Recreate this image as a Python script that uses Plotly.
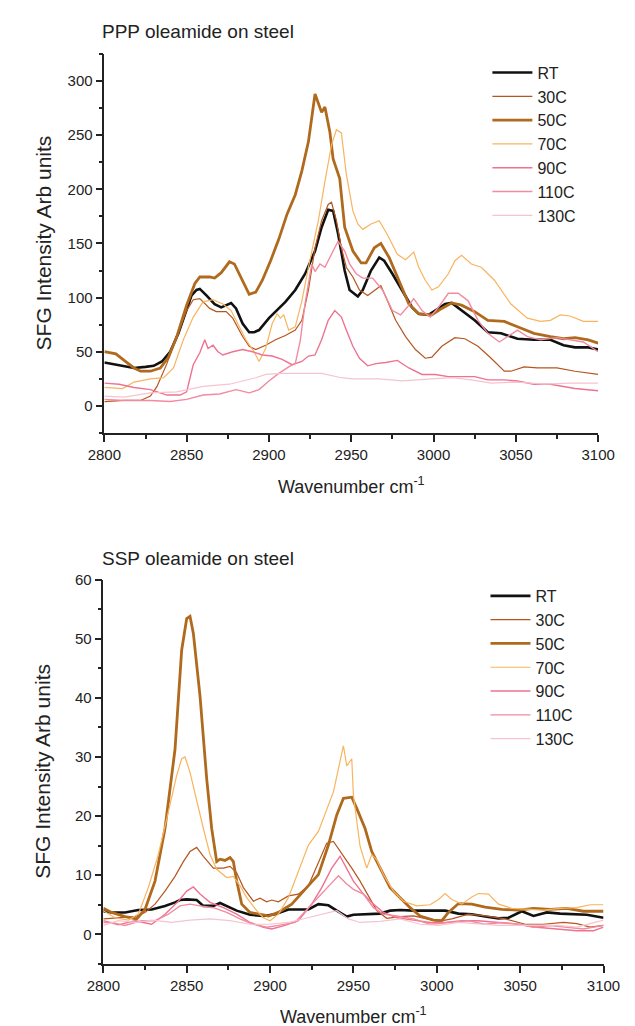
import plotly.graph_objects as go

# ---------------- data ----------------
series_names = ["RT", "30C", "50C", "70C", "90C", "110C", "130C"]
series_colors = ["#111111", "#b5561f", "#b06a1e", "#f8b45e", "#ee7390", "#f28aa0", "#f6c4d0"]
series_widths = [2.6, 1.2, 2.8, 1.2, 1.4, 1.4, 1.2]

# PPP oleamide on steel: (wavenumber, intensity)
ppp_rt = [(2800, 40), (2818, 35), (2825, 36), (2830, 37), (2835, 41), (2840, 50), (2845, 67), (2850, 88),
          (2853, 102), (2856, 107), (2858, 108), (2862, 102), (2867, 94), (2871, 91), (2877, 95), (2880, 90),
          (2884, 76), (2888, 68), (2891, 68), (2894, 70), (2900, 81), (2906, 90), (2910, 96), (2916, 107),
          (2922, 122), (2928, 143), (2932, 165), (2936, 181), (2939, 180), (2942, 159), (2946, 125), (2949, 107),
          (2954, 101), (2957, 107), (2962, 125), (2967, 137), (2970, 134), (2975, 122), (2981, 107), (2987, 91),
          (2991, 85), (2997, 84), (3001, 88), (3007, 94), (3011, 95), (3017, 88), (3025, 79), (3033, 68),
          (3041, 67), (3051, 62), (3061, 61), (3071, 61), (3079, 56), (3086, 54), (3094, 54), (3100, 52)]
ppp_30c = [(2800, 4), (2812, 5), (2822, 5), (2828, 9), (2832, 18), (2838, 39), (2844, 64), (2850, 88),
           (2854, 98), (2858, 99), (2864, 90), (2868, 87), (2874, 87), (2878, 81), (2884, 64), (2888, 55),
           (2892, 52), (2898, 56), (2904, 61), (2910, 65), (2916, 70), (2920, 79), (2924, 107), (2928, 146),
           (2932, 171), (2936, 186), (2938, 188), (2941, 171), (2944, 146), (2947, 128), (2951, 119), (2955, 107),
           (2960, 102), (2965, 108), (2968, 111), (2972, 97), (2977, 79), (2983, 64), (2989, 52), (2995, 44),
           (2999, 45), (3005, 55), (3013, 63), (3019, 62), (3027, 55), (3035, 44), (3043, 32), (3047, 32),
           (3055, 36), (3063, 35), (3075, 35), (3086, 32), (3100, 29)]
ppp_50c = [(2800, 50), (2807, 48), (2812, 42), (2818, 35), (2822, 32), (2828, 32), (2834, 35), (2839, 45),
           (2844, 64), (2850, 93), (2855, 113), (2858, 119), (2864, 119), (2867, 118), (2871, 123), (2876, 133),
           (2879, 131), (2883, 119), (2888, 103), (2892, 105), (2896, 116), (2901, 134), (2906, 154), (2911, 177),
           (2916, 195), (2920, 217), (2924, 244), (2928, 288), (2932, 271), (2934, 276), (2937, 253), (2939, 228),
           (2943, 210), (2946, 165), (2951, 143), (2956, 132), (2959, 132), (2964, 146), (2968, 150), (2973, 137),
           (2979, 116), (2985, 94), (2991, 85), (2999, 84), (3005, 90), (3011, 95), (3017, 93), (3025, 87),
           (3033, 79), (3043, 78), (3051, 73), (3061, 67), (3071, 64), (3079, 62), (3086, 63), (3094, 61), (3100, 58)]
ppp_70c = [(2800, 17), (2811, 16), (2818, 22), (2828, 25), (2836, 26), (2842, 35), (2848, 61), (2854, 82),
           (2860, 96), (2866, 98), (2872, 94), (2877, 88), (2881, 76), (2886, 61), (2891, 50), (2894, 41),
           (2898, 53), (2902, 76), (2905, 85), (2907, 81), (2909, 84), (2912, 70), (2916, 73), (2920, 97),
           (2924, 128), (2930, 171), (2934, 207), (2938, 241), (2941, 255), (2944, 252), (2947, 214), (2951, 180),
           (2954, 168), (2957, 163), (2962, 168), (2967, 171), (2972, 158), (2978, 140), (2983, 135), (2988, 142),
           (2991, 128), (2995, 116), (2999, 107), (3003, 110), (3009, 122), (3013, 134), (3017, 139), (3023, 131),
           (3029, 128), (3037, 116), (3047, 94), (3057, 81), (3065, 78), (3071, 79), (3077, 84), (3083, 83),
           (3091, 78), (3100, 78)]
ppp_90c = [(2800, 21), (2809, 20), (2818, 17), (2828, 15), (2838, 10), (2846, 10), (2850, 13), (2854, 38),
           (2858, 49), (2861, 61), (2863, 53), (2866, 56), (2869, 50), (2872, 47), (2878, 50), (2884, 52),
           (2890, 50), (2896, 47), (2902, 46), (2908, 43), (2914, 38), (2920, 41), (2924, 46), (2928, 47),
           (2932, 61), (2936, 79), (2940, 88), (2944, 82), (2947, 70), (2951, 55), (2955, 44), (2960, 37),
           (2965, 39), (2971, 40), (2978, 42), (2985, 35), (2993, 29), (3001, 29), (3009, 27), (3017, 27),
           (3025, 27), (3033, 24), (3043, 24), (3051, 23), (3061, 20), (3071, 20), (3079, 18), (3086, 16), (3100, 14)]
ppp_110c = [(2800, 6), (2812, 5), (2828, 5), (2840, 4), (2850, 6), (2860, 10), (2870, 11), (2880, 15),
            (2888, 12), (2894, 15), (2900, 23), (2906, 30), (2912, 36), (2916, 39), (2919, 60), (2922, 95),
            (2926, 131), (2928, 124), (2931, 131), (2934, 128), (2938, 140), (2942, 152), (2946, 143), (2949, 131),
            (2953, 122), (2957, 118), (2963, 118), (2969, 107), (2975, 88), (2980, 84), (2984, 91), (2988, 99),
            (2993, 88), (2998, 82), (3003, 91), (3009, 104), (3015, 104), (3021, 97), (3027, 79), (3033, 67),
            (3040, 59), (3045, 64), (3051, 70), (3057, 64), (3065, 61), (3075, 63), (3083, 61), (3091, 59), (3100, 50)]
ppp_130c = [(2800, 9), (2812, 8), (2828, 12), (2844, 13), (2860, 18), (2876, 20), (2892, 26), (2898, 29),
            (2908, 30), (2920, 30), (2932, 30), (2944, 26), (2951, 25), (2967, 25), (2981, 23), (2999, 25),
            (3011, 26), (3023, 24), (3035, 21), (3051, 22), (3067, 20), (3083, 21), (3100, 21)]

# SSP oleamide on steel: (wavenumber, intensity)
ssp_rt = [(2800, 3.9), (2805, 3.7), (2813, 3.7), (2821, 4.1), (2829, 4.2), (2837, 4.8), (2843, 5.4), (2846, 5.8),
          (2850, 5.9), (2856, 5.8), (2860, 4.8), (2866, 4.8), (2870, 5.3), (2874, 4.8), (2880, 4.0), (2888, 3.3),
          (2896, 3.1), (2903, 3.4), (2911, 4.2), (2917, 4.2), (2923, 4.2), (2929, 5.1), (2935, 4.9), (2940, 4.0),
          (2946, 3.0), (2950, 3.3), (2958, 3.4), (2966, 3.5), (2972, 4.0), (2978, 4.1), (2986, 4.0), (2996, 4.0),
          (3005, 4.0), (3013, 3.5), (3021, 3.4), (3029, 3.0), (3037, 2.7), (3043, 2.8), (3051, 3.9), (3058, 3.1),
          (3066, 3.7), (3074, 3.5), (3082, 3.4), (3090, 3.3), (3100, 2.8)]
ssp_30c = [(2800, 2.6), (2809, 2.8), (2819, 3.0), (2825, 3.7), (2831, 5.1), (2837, 7.3), (2843, 9.8), (2848, 12.3),
           (2852, 14.0), (2856, 14.7), (2860, 13.2), (2866, 11.2), (2872, 11.2), (2876, 11.5), (2880, 10.4),
           (2884, 7.9), (2890, 5.6), (2894, 6.1), (2898, 5.5), (2901, 5.8), (2905, 5.5), (2911, 6.5), (2917, 6.8),
           (2923, 8.2), (2929, 12.3), (2934, 15.4), (2938, 15.7), (2943, 13.7), (2949, 11.2), (2954, 9.0),
           (2959, 6.5), (2964, 4.0), (2970, 2.7), (2978, 3.0), (2986, 3.1), (2994, 2.6), (3001, 2.2), (3009, 2.6),
           (3019, 3.4), (3029, 3.1), (3041, 2.6), (3053, 1.7), (3064, 1.7), (3076, 2.0), (3084, 1.8), (3092, 1.2),
           (3100, 1.5)]
ssp_50c = [(2800, 4.4), (2805, 3.7), (2813, 3.0), (2820, 2.6), (2825, 4.2), (2831, 9.0), (2837, 17.9), (2843, 31.3),
           (2847, 48.1), (2850, 53.4), (2852, 53.8), (2854, 50.9), (2858, 40.3), (2862, 26.3), (2865, 17.9),
           (2868, 12.3), (2870, 12.7), (2873, 12.5), (2876, 13.0), (2878, 12.3), (2880, 9.0), (2883, 5.1),
           (2888, 3.7), (2894, 3.4), (2899, 3.1), (2905, 3.7), (2913, 5.1), (2921, 7.6), (2929, 10.1), (2935, 15.1),
           (2940, 20.2), (2944, 23.0), (2949, 23.2), (2952, 21.3), (2957, 17.9), (2961, 14.0), (2966, 11.2),
           (2972, 7.9), (2978, 6.2), (2984, 4.5), (2990, 3.1), (2998, 2.4), (3003, 2.3), (3007, 3.7), (3013, 5.2),
           (3021, 5.1), (3029, 4.6), (3039, 4.2), (3049, 4.1), (3058, 4.4), (3068, 4.2), (3078, 4.4), (3088, 3.9),
           (3100, 3.9)]
ssp_70c = [(2800, 4.0), (2807, 2.8), (2815, 2.4), (2821, 3.4), (2827, 7.9), (2833, 13.5), (2839, 20.7), (2844, 26.9),
           (2847, 29.7), (2849, 30.0), (2852, 27.4), (2856, 22.4), (2860, 17.9), (2864, 13.5), (2868, 11.0),
           (2874, 9.6), (2878, 9.8), (2882, 8.2), (2886, 6.2), (2892, 4.0), (2896, 2.8), (2900, 2.3), (2905, 3.4),
           (2911, 6.2), (2917, 10.7), (2923, 15.1), (2929, 17.4), (2934, 21.3), (2938, 24.1), (2941, 28.0),
           (2944, 31.9), (2946, 28.5), (2949, 29.7), (2950, 23.5), (2954, 14.9), (2958, 11.2), (2961, 13.5),
           (2964, 12.6), (2968, 10.1), (2974, 7.3), (2980, 5.6), (2988, 4.8), (2996, 5.0), (3001, 5.9), (3005, 6.9),
           (3009, 5.9), (3015, 5.1), (3021, 6.3), (3025, 6.9), (3031, 6.8), (3037, 5.1), (3045, 4.4), (3054, 4.2),
           (3064, 4.1), (3074, 4.4), (3084, 4.5), (3092, 5.0), (3100, 5.0)]
ssp_90c = [(2800, 2.3), (2809, 1.6), (2819, 2.3), (2829, 1.7), (2837, 3.4), (2845, 5.6), (2850, 7.3), (2854, 8.0),
           (2858, 6.8), (2864, 5.4), (2872, 4.5), (2880, 3.4), (2888, 2.0), (2896, 1.2), (2901, 0.9), (2909, 1.5),
           (2917, 2.3), (2925, 5.1), (2931, 7.9), (2937, 11.2), (2942, 13.2), (2946, 11.2), (2950, 9.0), (2956, 6.8),
           (2962, 5.1), (2968, 3.7), (2976, 2.8), (2986, 2.4), (2996, 2.0), (3005, 2.0), (3015, 2.3), (3025, 2.3),
           (3037, 2.0), (3049, 1.7), (3060, 1.2), (3072, 0.9), (3084, 0.6), (3094, 0.6), (3100, 1.2)]
ssp_110c = [(2800, 2.0), (2805, 2.0), (2813, 1.5), (2823, 2.3), (2831, 2.3), (2839, 3.4), (2846, 4.8), (2852, 5.1),
            (2858, 4.8), (2866, 4.5), (2874, 3.7), (2882, 2.6), (2890, 1.7), (2898, 1.2), (2905, 1.5), (2915, 2.0),
            (2923, 4.5), (2931, 6.8), (2937, 8.7), (2941, 9.9), (2946, 8.5), (2950, 7.6), (2956, 6.8), (2962, 4.5),
            (2968, 3.4), (2976, 3.1), (2986, 2.6), (2996, 1.7), (3007, 2.0), (3019, 2.3), (3029, 1.7), (3039, 2.0),
            (3049, 1.7), (3058, 1.2), (3068, 1.5), (3078, 1.2), (3088, 0.9), (3100, 1.5)]
ssp_130c = [(2800, 1.5), (2809, 2.3), (2819, 2.0), (2829, 2.4), (2841, 2.0), (2852, 2.4), (2864, 2.6), (2876, 2.3),
            (2888, 1.7), (2899, 1.7), (2911, 2.0), (2923, 2.8), (2931, 3.3), (2940, 4.0), (2947, 2.6), (2954, 2.0),
            (2966, 2.2), (2978, 2.6), (2990, 1.7), (3001, 1.5), (3013, 2.0), (3025, 1.7), (3037, 1.5), (3049, 1.5),
            (3060, 1.5), (3072, 1.5), (3084, 1.2), (3100, 2.4)]

ppp_series = [ppp_rt, ppp_30c, ppp_50c, ppp_70c, ppp_90c, ppp_110c, ppp_130c]
ssp_series = [ssp_rt, ssp_30c, ssp_50c, ssp_70c, ssp_90c, ssp_110c, ssp_130c]

x_ticks = [2800, 2850, 2900, 2950, 3000, 3050, 3100]
ppp_y_ticks = [0, 50, 100, 150, 200, 250, 300]
ssp_y_ticks = [0, 10, 20, 30, 40, 50, 60]

# ---------------- figure ----------------
W, H = 635, 1026
FONT = "Liberation Sans, Arial, Helvetica, sans-serif"
INK = "#222222"

fig = go.Figure()

for pts, name, col, lw in zip(ppp_series, series_names, series_colors, series_widths):
    fig.add_trace(go.Scatter(x=[p[0] for p in pts], y=[p[1] for p in pts], mode="lines", name=name,
                             line=dict(color=col, width=lw), xaxis="x", yaxis="y", legend="legend"))
for pts, name, col, lw in zip(ssp_series, series_names, series_colors, series_widths):
    fig.add_trace(go.Scatter(x=[p[0] for p in pts], y=[p[1] for p in pts], mode="lines", name=name,
                             line=dict(color=col, width=lw), xaxis="x2", yaxis="y2", legend="legend2"))


def px_x(p):
    return p / W


def px_y(p):
    return 1 - p / H


def axis(domain, rng, tickvals, minor_dtick, minor_tick0, anchor):
    return dict(domain=domain, range=rng, anchor=anchor, tickmode="array", tickvals=tickvals,
                showline=True, linecolor=INK, linewidth=1.5, mirror=False,
                ticks="outside", ticklen=7, tickwidth=1.5, tickcolor=INK,
                minor=dict(ticks="outside", ticklen=4, tickwidth=1.5, tickcolor=INK, dtick=minor_dtick,
                           tick0=minor_tick0, showgrid=False),
                showgrid=False, zeroline=False,
                tickfont=dict(family=FONT, size=15, color=INK))


top_x = [px_x(92.3), px_x(614.0)]
top_y = [px_y(427.7), px_y(45.3)]
bot_x = [px_x(91.2), px_x(619.7)]
bot_y = [px_y(963.3), px_y(575.7)]

fig.update_layout(
    width=W, height=H, margin=dict(l=0, r=0, t=0, b=0, pad=0),
    paper_bgcolor="white", plot_bgcolor="white",
    font=dict(family=FONT, color=INK),
    xaxis=axis(top_x, [2800, 3100], x_ticks, 25, 2800, "y"),
    yaxis=axis(top_y, [-25, 325], ppp_y_ticks, 25, 0, "x"),
    xaxis2=axis(bot_x, [2800, 3100], x_ticks, 25, 2800, "y2"),
    yaxis2=axis(bot_y, [-5, 60], ssp_y_ticks, 5, 0, "x2"),
)

legend_common = dict(font=dict(family=FONT, size=16, color=INK), bgcolor="rgba(0,0,0,0)",
                     borderwidth=0, xanchor="left", yanchor="top", itemwidth=40, tracegroupgap=0)
fig.update_layout(
    legend=dict(x=px_x(497), y=px_y(47), **legend_common),
    legend2=dict(x=px_x(495), y=px_y(575), **legend_common),
)

ytitle_font = dict(family=FONT, size=21, color=INK)
xtitle_font = dict(family=FONT, size=18, color=INK)
title_font = dict(family=FONT, size=19, color=INK)
annotations = [
    dict(text="PPP oleamide on steel", x=px_x(88), y=px_y(23), xanchor="left", yanchor="middle", font=title_font),
    dict(text="SSP oleamide on steel", x=px_x(88), y=px_y(554), xanchor="left", yanchor="middle", font=title_font),
    dict(text="SFG Intensity Arb units", x=px_x(27.5), y=(top_y[0] + top_y[1]) / 2, textangle=-90,
         xanchor="center", yanchor="middle", font=ytitle_font),
    dict(text="SFG Intensity Arb units", x=px_x(27.5), y=(bot_y[0] + bot_y[1]) / 2, textangle=-90,
         xanchor="center", yanchor="middle", font=ytitle_font),
    dict(text="Wavenumber cm<sup>-1</sup>", x=(top_x[0] + top_x[1]) / 2, y=px_y(481), xanchor="center",
         yanchor="middle", font=xtitle_font),
    dict(text="Wavenumber cm<sup>-1</sup>", x=(bot_x[0] + bot_x[1]) / 2, y=px_y(1015), xanchor="center",
         yanchor="middle", font=xtitle_font),
]
for a in annotations:
    a.update(xref="paper", yref="paper", showarrow=False)
fig.update_layout(annotations=annotations)

fig.write_html("out.html", config={"displayModeBar": False},
               post_script="document.body.style.margin='0px';document.body.style.overflow='hidden';")
